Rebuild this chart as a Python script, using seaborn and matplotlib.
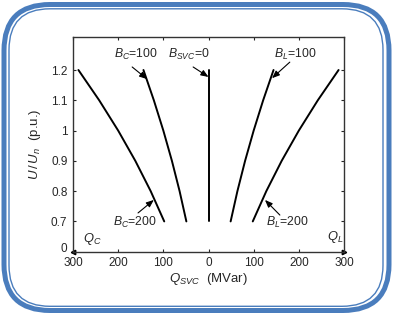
import numpy as np
import pandas as pd
import matplotlib
matplotlib.use("Agg")
import matplotlib.pyplot as plt
import matplotlib.transforms as mtransforms
from matplotlib.patches import FancyBboxPatch
import seaborn as sns

# ---- data ----
U_vals = [0.7, 0.8, 0.9, 1.0, 1.1, 1.2]
Q_BC200 = [-98, -128, -162, -200, -242, -288]
Q_BC100 = [-49, -64, -81, -100, -121, -144]
U_svc0 = [0.7, 1.2]
Q_svc0 = [0, 0]
Q_BL100 = [49, 64, 81, 100, 121, 144]
Q_BL200 = [98, 128, 162, 200, 242, 288]

x_ticks = [-300, -200, -100, 0, 100, 200, 300]
x_tick_labels = ["300", "200", "100", "0", "100", "200", "300"]
y_ticks = [0.6, 0.7, 0.8, 0.9, 1.0, 1.1, 1.2]
y_tick_labels = ["0", "0.7", "0.8", "0.9", "1", "1.1", "1.2"]

rows = []
for name, qs, us in [("BC200", Q_BC200, U_vals), ("BC100", Q_BC100, U_vals),
                     ("SVC0", Q_svc0, U_svc0), ("BL100", Q_BL100, U_vals),
                     ("BL200", Q_BL200, U_vals)]:
    for q, u in zip(qs, us):
        rows.append({"curve": name, "Q": q, "U": u})
df = pd.DataFrame(rows)

sns.set_style("white")
plt.rcParams["font.family"] = ["Liberation Sans", "DejaVu Sans"]
plt.rcParams["mathtext.fontset"] = "custom"
plt.rcParams["mathtext.rm"] = "Liberation Sans"
plt.rcParams["mathtext.it"] = "Liberation Sans:italic"
plt.rcParams["mathtext.bf"] = "Liberation Sans:bold"

W, H = 396, 320
fig = plt.figure(figsize=(W / 100, H / 100), dpi=100)

# background frame
bg = fig.add_axes([0, 0, 1, 1])
bg.set_xlim(0, W)
bg.set_ylim(H, 0)
bg.axis("off")
blue = "#4a7dbd"
bg.add_patch(FancyBboxPatch((4, 4.5), 385, 306, boxstyle="round,pad=0,rounding_size=46",
                            fill=False, ec=blue, lw=3.6))
bg.add_patch(FancyBboxPatch((9, 8.8), 374, 297.5, boxstyle="round,pad=0,rounding_size=41",
                            fill=False, ec=blue, lw=1.0))

ax = fig.add_axes([73 / W, 1 - 251.7 / H, (344 - 73) / W, (251.7 - 37) / H])
sns.lineplot(data=df, x="Q", y="U", hue="curve", units="curve", estimator=None, sort=False,
             palette=["black"] * 5, legend=False, lw=1.4, ax=ax)

ax.set_xlim(-300, 300)
ax.set_ylim(0.6, 1.309)
ax.set_xticks(x_ticks)
ax.set_xticklabels(x_tick_labels)
ax.set_yticks(y_ticks)
ax.set_yticklabels(y_tick_labels)
ax.tick_params(axis="x", direction="in", length=2.5, width=0.8, pad=3.5, labelsize=8.5,
               top=True, bottom=True)
ax.tick_params(axis="y", direction="in", length=2.5, width=0.8, pad=4, labelsize=8.5,
               left=True, right=True)
for s in ax.spines.values():
    s.set_color("#333333")
    s.set_linewidth(1.0)

# lift the "0" label slightly above the corner, as in the reference
zero_lbl = ax.get_yticklabels()[0]
zero_lbl.set_transform(zero_lbl.get_transform() +
                       mtransforms.ScaledTranslation(0, 3 / 72, fig.dpi_scale_trans))

ax.set_xlabel(r"$Q_{SVC}$  (MVar)", fontsize=9.5, labelpad=2)
ax.set_ylabel(r"$U\,/\,U_n$  (p.u.)", fontsize=9.5, labelpad=6)

# axis arrows
ax.plot([0], [0], marker="<", ms=3.2, color="black", transform=ax.transAxes, clip_on=False)
ax.plot([1], [0], marker=">", ms=3.2, color="black", transform=ax.transAxes, clip_on=False)

fs = 8.8
ap = dict(arrowstyle="-|>,head_length=0.45,head_width=0.18", lw=0.8, color="black",
          shrinkA=0, shrinkB=0)
ax.text(-160, 1.25, r"$B_C$=100", fontsize=fs, ha="center", va="center")
ax.text(-43, 1.25, r"$B_{SVC}$=0", fontsize=fs, ha="center", va="center")
ax.text(191, 1.25, r"$B_L$=100", fontsize=fs, ha="center", va="center")
ax.text(-163, 0.698, r"$B_C$=200", fontsize=fs, ha="center", va="center")
ax.text(175, 0.698, r"$B_L$=200", fontsize=fs, ha="center", va="center")
ax.text(-258, 0.642, r"$Q_C$", fontsize=fs + 0.5, ha="center", va="center")
ax.text(280, 0.649, r"$Q_L$", fontsize=fs + 0.5, ha="center", va="center")

ax.annotate("", xy=(-136, 1.170), xytext=(-169, 1.210), arrowprops=ap)
ax.annotate("", xy=(0, 1.177), xytext=(-34, 1.210), arrowprops=ap)
ax.annotate("", xy=(140.6, 1.173), xytext=(180, 1.226), arrowprops=ap)
ax.annotate("", xy=(-121, 0.771), xytext=(-156, 0.728), arrowprops=ap)
ax.annotate("", xy=(125, 0.771), xytext=(158, 0.721), arrowprops=ap)

fig.savefig("out.png", dpi=100)
